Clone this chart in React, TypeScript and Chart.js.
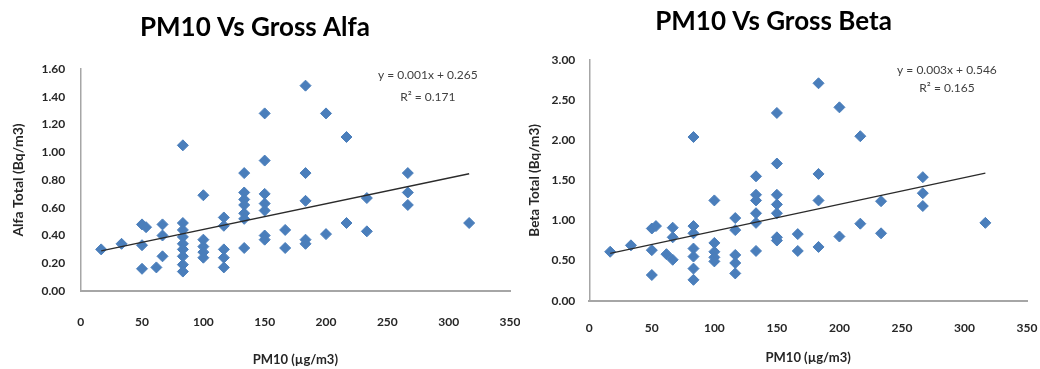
import React, { useEffect, useRef } from "react";
import { Chart, registerables } from "chart.js";

Chart.register(...registerables);

// ---------- data ----------
const xTickValues = [0, 50, 100, 150, 200, 250, 300, 350];

const alfaPm10 = [
  16.7, 33.3, 50, 50, 50, 53.3, 61.7, 66.7, 66.7, 66.7,
  83.3, 83.3, 83.3, 83.3, 83.3, 83.3, 83.3, 83.3, 83.3,
  100, 100, 100, 100, 100,
  116.7, 116.7, 116.7, 116.7, 116.7,
  133.3, 133.3, 133.3, 133.3, 133.3, 133.3, 133.3,
  150, 150, 150, 150, 150, 150, 150,
  166.7, 166.7,
  183.3, 183.3, 183.3, 183.3, 183.3,
  200, 200, 216.7, 216.7, 233.3, 233.3,
  266.7, 266.7, 266.7, 316.7,
];
const alfaTotal = [
  0.30, 0.34, 0.48, 0.33, 0.16, 0.46, 0.17, 0.48, 0.40, 0.25,
  1.05, 0.49, 0.44, 0.39, 0.34, 0.30, 0.25, 0.19, 0.14,
  0.69, 0.37, 0.32, 0.28, 0.24,
  0.53, 0.47, 0.30, 0.24, 0.17,
  0.85, 0.71, 0.66, 0.62, 0.56, 0.52, 0.31,
  1.28, 0.94, 0.70, 0.63, 0.58, 0.40, 0.37,
  0.44, 0.31,
  1.48, 0.85, 0.65, 0.37, 0.34,
  1.28, 0.41, 1.11, 0.49, 0.67, 0.43,
  0.85, 0.71, 0.62, 0.49,
];
const alfaTrendX = [16.7, 316.7];
const alfaTrendY = [0.29, 0.845];

const betaPm10 = [
  16.7, 33.3, 50, 50, 50, 53.3, 61.7, 66.7, 66.7, 66.7,
  83.3, 83.3, 83.3, 83.3, 83.3, 83.3, 83.3,
  100, 100, 100, 100, 100,
  116.7, 116.7, 116.7, 116.7, 116.7,
  133.3, 133.3, 133.3, 133.3, 133.3, 133.3,
  150, 150, 150, 150, 150, 150, 150,
  166.7, 166.7,
  183.3, 183.3, 183.3, 183.3,
  200, 200, 216.7, 216.7, 233.3, 233.3,
  266.7, 266.7, 266.7, 316.7,
];
const betaTotal = [
  0.61, 0.69, 0.90, 0.63, 0.32, 0.93, 0.58, 0.91, 0.79, 0.51,
  2.04, 0.93, 0.84, 0.65, 0.55, 0.40, 0.26,
  1.25, 0.72, 0.61, 0.54, 0.49,
  1.03, 0.88, 0.57, 0.47, 0.34,
  1.55, 1.32, 1.25, 1.09, 0.97, 0.62,
  2.34, 1.71, 1.32, 1.20, 1.09, 0.79, 0.75,
  0.83, 0.62,
  2.71, 1.58, 1.25, 0.67,
  2.41, 0.80, 2.05, 0.96, 1.24, 0.84,
  1.54, 1.34, 1.18, 0.97,
];
const betaTrendX = [16.7, 316.7];
const betaTrendY = [0.59, 1.59];

const alfaEquation = ["y = 0.001x + 0.265", "R\u00B2 = 0.171"];
const betaEquation = ["y = 0.003x + 0.546", "R\u00B2 = 0.165"];

// ---------- styling ----------
const FONT = "Lato, 'Liberation Sans', sans-serif";
const POINT_COLOR = "#4a7ebb";
const AXIS_COLOR = "#a6a6a6";
const TEXT_COLOR = "#262626";

const eqPlugin = {
  id: "eqText",
  afterDatasetsDraw(chart: any, _args: any, opts: any) {
    if (!opts || !opts.lines) return;
    const { ctx, scales } = chart;
    const px = scales.x.getPixelForValue(opts.x);
    ctx.save();
    ctx.font = `12px ${FONT}`;
    ctx.fillStyle = "#404040";
    ctx.textAlign = "center";
    ctx.textBaseline = "middle";
    opts.lines.forEach((line: string, i: number) => {
      const py = scales.y.getPixelForValue(opts.y[i]);
      ctx.fillText(line, px, py);
    });
    ctx.restore();
  },
};

type PanelCfg = {
  title: string;
  yTitle: string;
  xs: number[];
  ys: number[];
  trendX: number[];
  trendY: number[];
  yMax: number;
  yStep: number;
  eqLines: string[];
  eqX: number;
  eqY: number[];
  titlePad: { top: number; bottom: number };
  padRight: number;
  yWidth: number;
  xHeight: number;
  yTickPad: number;
  xTickPad: number;
  yTitlePad: number;
  xTitlePad: number;
  yTitleSize: number;
};

function Panel({ cfg }: { cfg: PanelCfg }) {
  const ref = useRef<HTMLCanvasElement>(null);
  useEffect(() => {
    if (!ref.current) return;
    const points = cfg.xs.map((x, i) => ({ x, y: cfg.ys[i] }));
    const trend = cfg.trendX.map((x, i) => ({ x, y: cfg.trendY[i] }));
    const chart = new Chart(ref.current, {
      type: "scatter",
      data: {
        datasets: [
          {
            data: trend,
            showLine: true,
            borderColor: "#2b2b2b",
            borderWidth: 1.3,
            pointRadius: 0,
            fill: false,
          },
          {
            data: points,
            pointStyle: "rectRot",
            pointRadius: 5.5,
            backgroundColor: POINT_COLOR,
            borderColor: POINT_COLOR,
            borderWidth: 1,
          },
        ],
      },
      options: {
        responsive: false,
        maintainAspectRatio: false,
        animation: false,
        layout: { padding: { left: 0, right: cfg.padRight, top: 0, bottom: 0 } },
        plugins: {
          legend: { display: false },
          tooltip: { enabled: false },
          title: {
            display: true,
            text: cfg.title,
            color: "#000",
            font: { family: FONT, size: 26, weight: "bold", lineHeight: 1.2 },
            padding: cfg.titlePad,
          },
          eqText: { lines: cfg.eqLines, x: cfg.eqX, y: cfg.eqY },
        } as any,
        scales: {
          x: {
            type: "linear",
            min: 0,
            max: 350,
            grid: { display: false, drawTicks: false },
            border: { display: true, color: AXIS_COLOR, width: 2 },
            afterBuildTicks: (scale: any) => {
              scale.ticks = xTickValues.map((v) => ({ value: v }));
            },
            ticks: {
              color: TEXT_COLOR,
              padding: cfg.xTickPad,
              font: { family: FONT, size: 12, weight: "bold" },
              maxRotation: 0,
              autoSkip: false,
            },
            title: {
              display: true,
              text: "PM10 (\u00B5g/m3)",
              color: TEXT_COLOR,
              font: { family: FONT, size: 13, weight: "bold", lineHeight: 1.2 },
              padding: { top: 0, bottom: cfg.xTitlePad },
            },
            afterFit: (scale: any) => {
              scale.height = cfg.xHeight;
              scale.paddingLeft = 0;
              scale.paddingRight = 0;
            },
          },
          y: {
            type: "linear",
            min: 0,
            max: cfg.yMax,
            grid: { display: false, drawTicks: false },
            border: { display: true, color: AXIS_COLOR, width: 1.5 },
            ticks: {
              stepSize: cfg.yStep,
              color: TEXT_COLOR,
              padding: cfg.yTickPad,
              font: { family: FONT, size: 12, weight: "bold" },
              callback: (v: any) => Number(v).toFixed(2),
            },
            title: {
              display: true,
              text: cfg.yTitle,
              color: TEXT_COLOR,
              font: { family: FONT, size: cfg.yTitleSize, weight: "bold", lineHeight: 1.2 },
              padding: { top: cfg.yTitlePad, bottom: 0 },
            },
            afterFit: (scale: any) => {
              scale.width = cfg.yWidth;
              scale.paddingTop = 0;
              scale.paddingBottom = 0;
            },
          },
        },
      } as any,
      plugins: [eqPlugin],
    });
    return () => chart.destroy();
  }, [cfg]);
  return <canvas ref={ref} width={520} height={369} style={{ display: "block" }} />;
}

const alfaCfg: PanelCfg = {
  title: "PM10 Vs Gross Alfa",
  yTitle: "Alfa Total (Bq/m3)",
  xs: alfaPm10,
  ys: alfaTotal,
  trendX: alfaTrendX,
  trendY: alfaTrendY,
  yMax: 1.6,
  yStep: 0.2,
  eqLines: alfaEquation,
  eqX: 283,
  eqY: [1.557, 1.40],
  titlePad: { top: 12.4, bottom: 25.4 },
  padRight: 10,
  yWidth: 80.7,
  xHeight: 78,
  yTickPad: 15.5,
  xTickPad: 23.8,
  yTitlePad: 9.8,
  xTitlePad: 1.8,
  yTitleSize: 14,
};

const betaCfg: PanelCfg = {
  title: "PM10 Vs Gross Beta",
  yTitle: "Beta Total (Bq/m3)",
  xs: betaPm10,
  ys: betaTotal,
  trendX: betaTrendX,
  trendY: betaTrendY,
  yMax: 3,
  yStep: 0.5,
  eqLines: betaEquation,
  eqX: 286,
  eqY: [2.88, 2.65],
  titlePad: { top: 6.4, bottom: 22.4 },
  padRight: 13,
  yWidth: 69.3,
  xHeight: 68.3,
  yTickPad: 14,
  xTickPad: 20,
  yTitlePad: 6.1,
  xTitlePad: 3.8,
  yTitleSize: 13.5,
};

export default function App() {
  return (
    <div
      style={{
        position: "absolute",
        left: 0,
        top: 0,
        width: 1040,
        height: 369,
        background: "#fff",
      }}
    >
      <div style={{ position: "absolute", left: 0, top: 0, width: 520, height: 369 }}>
        <Panel cfg={alfaCfg} />
      </div>
      <div style={{ position: "absolute", left: 520, top: 0, width: 520, height: 369 }}>
        <Panel cfg={betaCfg} />
      </div>
    </div>
  );
}
